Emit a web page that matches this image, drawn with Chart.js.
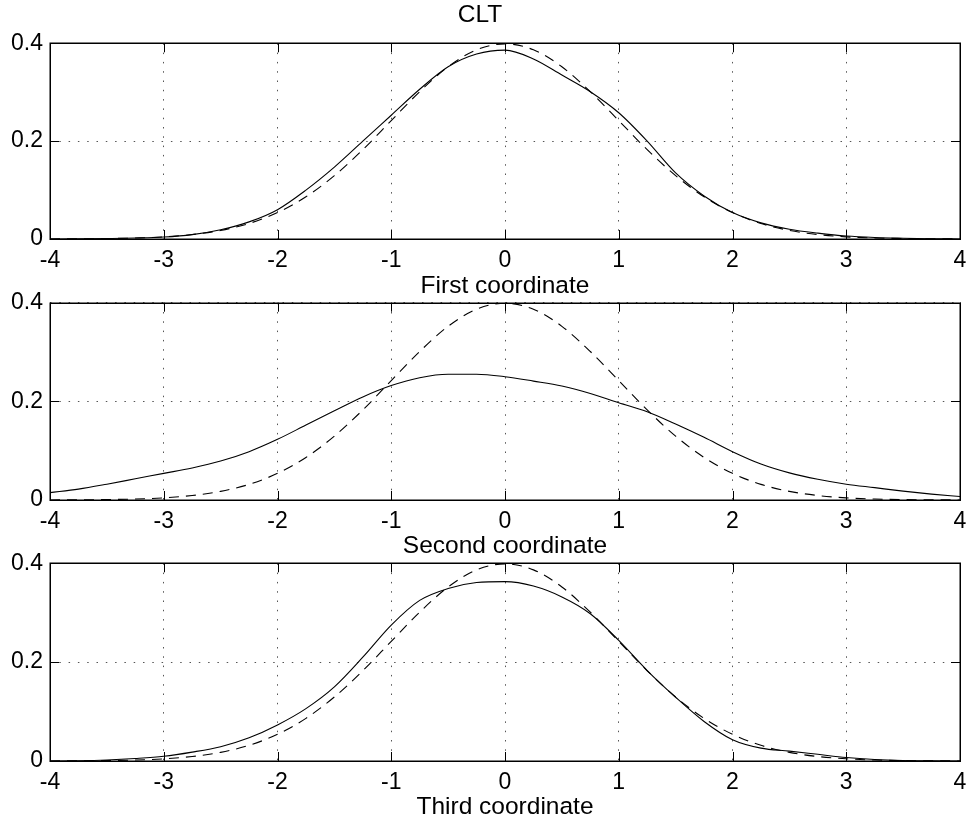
<!DOCTYPE html>
<html>
<head>
<meta charset="utf-8">
<script src="https://cdn.jsdelivr.net/npm/chart.js@4.4.1/dist/chart.umd.min.js"></script>
<style>
  html, body { margin: 0; padding: 0; background: #fff; overflow: hidden; width: 966px; height: 823px; }
  .panel { position: absolute; left: 0; width: 966px; }
  canvas { display: block; }
</style>
</head>
<body>
<div class="panel" id="p1" style="top:0px;height:301px"><canvas id="c1" width="966" height="301"></canvas></div>
<div class="panel" id="p2" style="top:280px;height:282px"><canvas id="c2" width="966" height="282"></canvas></div>
<div class="panel" id="p3" style="top:540px;height:283px"><canvas id="c3" width="966" height="283"></canvas></div>
<script>
// ---- data ----
const xValues = [-4, -3.75, -3.5, -3.25, -3, -2.75, -2.5, -2.25, -2, -1.75, -1.5, -1.25, -1, -0.75, -0.5, -0.25,
                 0, 0.25, 0.5, 0.75, 1, 1.25, 1.5, 1.75, 2, 2.25, 2.5, 2.75, 3, 3.25, 3.5, 3.75, 4];

// dashed reference density (same in all three panels)
const normalDensity = [0.0001, 0.0004, 0.0009, 0.002, 0.0044, 0.0091, 0.0175, 0.0317, 0.054, 0.0863, 0.1295, 0.1826,
                       0.242, 0.3011, 0.3521, 0.3867, 0.3989, 0.3867, 0.3521, 0.3011, 0.242, 0.1826, 0.1295, 0.0863,
                       0.054, 0.0317, 0.0175, 0.0091, 0.0044, 0.002, 0.0009, 0.0004, 0.0001];

// solid estimated densities
const firstCoord = [0, 0.0003, 0.001, 0.002, 0.004, 0.009, 0.019, 0.035, 0.060, 0.100, 0.147, 0.200,
                    0.253, 0.306, 0.352, 0.378, 0.386, 0.368, 0.335, 0.301, 0.258, 0.200, 0.135, 0.088,
                    0.054, 0.033, 0.020, 0.012, 0.006, 0.003, 0.0015, 0.0005, 0];
const secondCoord = [0.015, 0.022, 0.032, 0.043, 0.054, 0.065, 0.079, 0.098, 0.123, 0.152, 0.181, 0.209,
                     0.232, 0.248, 0.255, 0.255, 0.250, 0.241, 0.231, 0.216, 0.197, 0.179, 0.154, 0.127,
                     0.098, 0.073, 0.055, 0.042, 0.032, 0.025, 0.018, 0.012, 0.007];
const thirdCoord = [0, 0.0005, 0.002, 0.005, 0.0095, 0.018, 0.029, 0.047, 0.073, 0.106, 0.150, 0.210,
                    0.275, 0.325, 0.349, 0.361, 0.363, 0.354, 0.332, 0.298, 0.244, 0.183, 0.129, 0.080,
                    0.043, 0.026, 0.020, 0.0135, 0.007, 0.003, 0.001, 0.0003, 0];

const xTickValues = [-4, -3, -2, -1, 0, 1, 2, 3, 4];
const yTickValues = [0, 0.2, 0.4];
const plotTitle = 'CLT';
const xLabels = ['First coordinate', 'Second coordinate', 'Third coordinate'];

// ---- rendering ----
const FAMILY = "'Liberation Sans', Arial, Helvetica, sans-serif";
const TICK_FONT = { family: FAMILY, size: 23, weight: 'normal' };
const LABEL_FONT = { family: FAMILY, size: 24.5, weight: 'normal' };

const boxPlugin = {
  id: 'matlabBox',
  afterDatasetsDraw(chart) {
    const { ctx, chartArea: a, scales } = chart;
    ctx.save();
    ctx.strokeStyle = '#000';
    ctx.lineWidth = 1;
    const tl = 9;
    ctx.beginPath();
    scales.x.ticks.forEach(t => {
      const px = Math.round(scales.x.getPixelForValue(t.value)) + 0.5;
      ctx.moveTo(px, a.bottom); ctx.lineTo(px, a.bottom - tl);
      ctx.moveTo(px, a.top); ctx.lineTo(px, a.top + tl);
    });
    scales.y.ticks.forEach(t => {
      const py = Math.round(scales.y.getPixelForValue(t.value)) + 0.5;
      ctx.moveTo(a.left, py); ctx.lineTo(a.left + tl, py);
      ctx.moveTo(a.right, py); ctx.lineTo(a.right - tl, py);
    });
    ctx.stroke();
    ctx.lineWidth = 1.5;
    ctx.strokeRect(Math.round(a.left) + 0.25, Math.round(a.top) + 0.25,
                   Math.round(a.right) - Math.round(a.left), Math.round(a.bottom) - Math.round(a.top));
    ctx.restore();
  }
};

function pts(vals) { return xValues.map((x, i) => ({ x: x, y: vals[i] })); }

function makePanel(id, solid, xlabel, opts) {
  const axisHeight = 62;
  return new Chart(document.getElementById(id), {
    type: 'line',
    data: {
      datasets: [
        { data: pts(solid), borderColor: '#000', borderWidth: 1.1, pointRadius: 0,
          cubicInterpolationMode: 'monotone', fill: false },
        { data: pts(normalDensity), borderColor: '#000', borderWidth: 1.1, pointRadius: 0,
          borderDash: [10, 7], cubicInterpolationMode: 'monotone', fill: false }
      ]
    },
    options: {
      responsive: false,
      animation: false,
      devicePixelRatio: 1,
      layout: { padding: { left: 0, right: 6, top: opts.padTop, bottom: 0 } },
      plugins: {
        legend: { display: false },
        tooltip: { enabled: false },
        title: opts.title ? {
          display: true, text: opts.title, color: '#000', font: LABEL_FONT,
          padding: { top: 0.3, bottom: 13.6 }
        } : { display: false }
      },
      scales: {
        x: {
          type: 'linear', min: -4, max: 4,
          afterBuildTicks(s) { s.ticks = xTickValues.map(v => ({ value: v })); },
          ticks: { autoSkip: false, maxRotation: 0, padding: 7.5, color: '#000', font: TICK_FONT,
                   callback: v => String(v) },
          grid: { color: '#555', lineWidth: 1, drawTicks: false },
          border: { display: false, dash: [1.5, 7.8] },
          title: { display: true, text: xlabel, color: '#000', font: LABEL_FONT,
                   padding: { top: 0, bottom: opts.titlePadBottom } },
          afterFit(s) { s.height = axisHeight; s.paddingLeft = 0; s.paddingRight = 0; }
        },
        y: {
          type: 'linear', min: 0, max: 0.4,
          afterBuildTicks(s) { s.ticks = yTickValues.map(v => ({ value: v })); },
          ticks: { padding: 7, color: '#000', font: TICK_FONT,
                   callback: v => String(Math.round(v * 10) / 10) },
          grid: { color: '#555', lineWidth: 1, drawTicks: false },
          border: { display: false, dash: [1.5, 7.8] },
          afterFit(s) { s.width = 50; s.paddingTop = 0; s.paddingBottom = 0; }
        }
      }
    },
    plugins: [boxPlugin]
  });
}

makePanel('c1', firstCoord, xLabels[0], { title: plotTitle, padTop: 0, titlePadBottom: 0 });
makePanel('c2', secondCoord, xLabels[1], { padTop: 22.7, titlePadBottom: 0.8 });
makePanel('c3', thirdCoord, xLabels[2], { padTop: 23.3, titlePadBottom: 1.5 });
</script>
</body>
</html>
